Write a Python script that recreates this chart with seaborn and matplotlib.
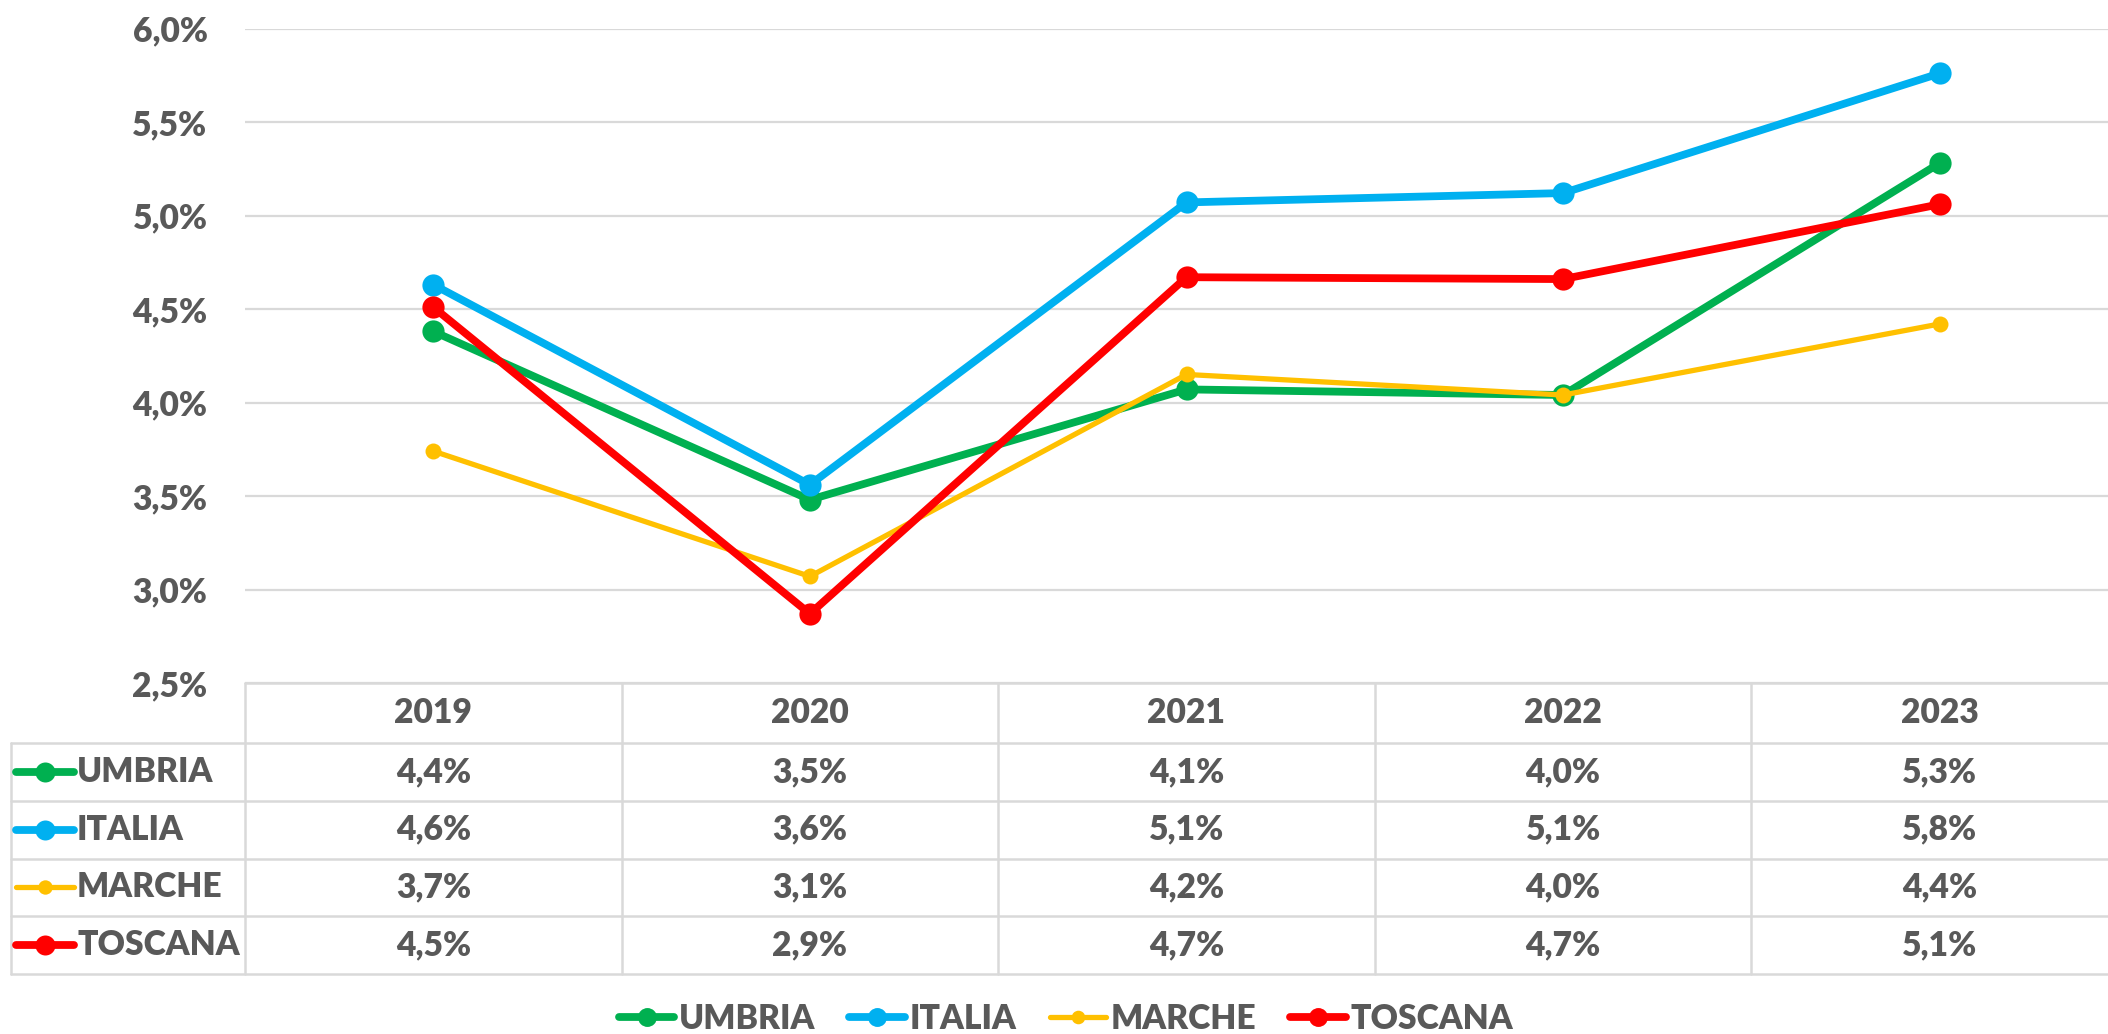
import numpy as np
import pandas as pd
import matplotlib
matplotlib.use("Agg")
import matplotlib.pyplot as plt
import matplotlib.transforms as mtransforms
from matplotlib.lines import Line2D
import seaborn as sns

# dati (valori in %)
years = ["2019", "2020", "2021", "2022", "2023"]
series = ["UMBRIA", "ITALIA", "MARCHE", "TOSCANA"]
umbria = [4.38, 3.48, 4.07, 4.04, 5.28]
italia = [4.63, 3.56, 5.07, 5.12, 5.76]
marche = [3.74, 3.07, 4.15, 4.04, 4.42]
toscana = [4.51, 2.87, 4.67, 4.66, 5.06]
colors = ["#00B050", "#00B0F0", "#FFC000", "#FF0000"]

values = [umbria, italia, marche, toscana]
df = pd.DataFrame({
    "serie": np.repeat(series, len(years)),
    "anno": years * len(series),
    "idx": list(range(len(years))) * len(series),
    "valore": np.concatenate(values),
})

sns.set_theme(style="white")
plt.rcParams["font.family"] = ["Lato", "DejaVu Sans"]
plt.rcParams["font.weight"] = "heavy"
gray = "#595959"
grid_c = "#D9D9D9"
fs = 24.2
fw = "heavy"

W, H = 2108, 1034
fig = plt.figure(figsize=(W / 100, H / 100), dpi=100)
left_px, right_px, top_px, bot_px = 245, 2128, 28.5, 683
ax = fig.add_axes([left_px / W, 1 - bot_px / H, (right_px - left_px) / W, (bot_px - top_px) / H])

lws = [5.6, 5.6, 3.8, 5.6]
mss = [16, 16, 11.5, 16]
for s, c, lw, ms in zip(series, colors, lws, mss):
    sns.lineplot(data=df[df["serie"] == s], x="idx", y="valore", color=c, lw=lw,
                 marker="o", markersize=ms, markeredgewidth=0, ax=ax, clip_on=False)

ax.set_xlim(-0.5, len(years) - 0.5)
ax.set_ylim(2.5, 6.0)
yt = np.arange(2.5, 6.01, 0.5)
ax.set_yticks(yt)
ax.set_yticklabels([f"{v:.1f}%".replace(".", ",") for v in yt], fontweight=fw)
ax.set_xticks([])
ax.set_xlabel("")
ax.set_ylabel("")
ax.tick_params(axis="y", length=0, pad=27, labelsize=fs, labelcolor=gray)
ax.yaxis.grid(True, color=grid_c, lw=1.6)
for sp in ax.spines.values():
    sp.set_visible(False)

# tabella dati sotto il grafico
ov = fig.add_axes([0, 0, 1, 1], zorder=-1)
ov.set_xlim(0, W)
ov.set_ylim(H, 0)
ov.axis("off")
trans = mtransforms.blended_transform_factory(ax.transData, ov.transData)

rows_y = [683, 743, 801, 858.5, 916, 974]
tab_left = 10.7
ov.plot([left_px, W], [rows_y[0]] * 2, color=grid_c, lw=1.8)
for y in rows_y[1:]:
    ov.plot([tab_left, W], [y, y], color=grid_c, lw=1.8)
ov.plot([tab_left, tab_left], [rows_y[1], rows_y[-1]], color=grid_c, lw=1.8)
for i in range(len(years) + 1):
    ov.plot([i - 0.5, i - 0.5], [rows_y[0], rows_y[-1]], color=grid_c, lw=1.8,
            transform=trans, clip_on=False)

hy = (rows_y[0] + rows_y[1]) / 2
for i, yr in enumerate(years):
    ov.text(i, hy, yr, transform=trans, ha="center", va="center",
            fontsize=fs, color=gray, fontweight=fw)

for r, (s, c, vals, lw, ms) in enumerate(zip(series, colors, values, lws, mss)):
    cy = (rows_y[r + 1] + rows_y[r + 2]) / 2
    ov.plot([16, 74], [cy, cy], color=c, lw=lw, solid_capstyle="round")
    ov.plot([45], [cy], marker="o", color=c, markersize=ms * 0.9, markeredgewidth=0)
    ov.text(77, cy, s, ha="left", va="center", fontsize=fs, color=gray, fontweight=fw)
    for i, v in enumerate(vals):
        ov.text(i, cy, f"{v:.1f}%".replace(".", ","), transform=trans, ha="center",
                va="center", fontsize=fs, color=gray, fontweight=fw)

handles = [Line2D([0], [0], color=c, lw=lw, marker="o", markersize=ms * 0.85,
                  markeredgewidth=0, solid_capstyle="round")
           for c, lw, ms in zip(colors, lws, mss)]
fig.legend(handles, series, loc="center", bbox_to_anchor=(1066 / W, 1 - 1019 / H),
           ncol=4, frameon=False, prop={"size": fs, "weight": fw}, labelcolor=gray,
           handlelength=1.65, handletextpad=0.15, columnspacing=1.0)

fig.savefig("out.png", dpi=100)
